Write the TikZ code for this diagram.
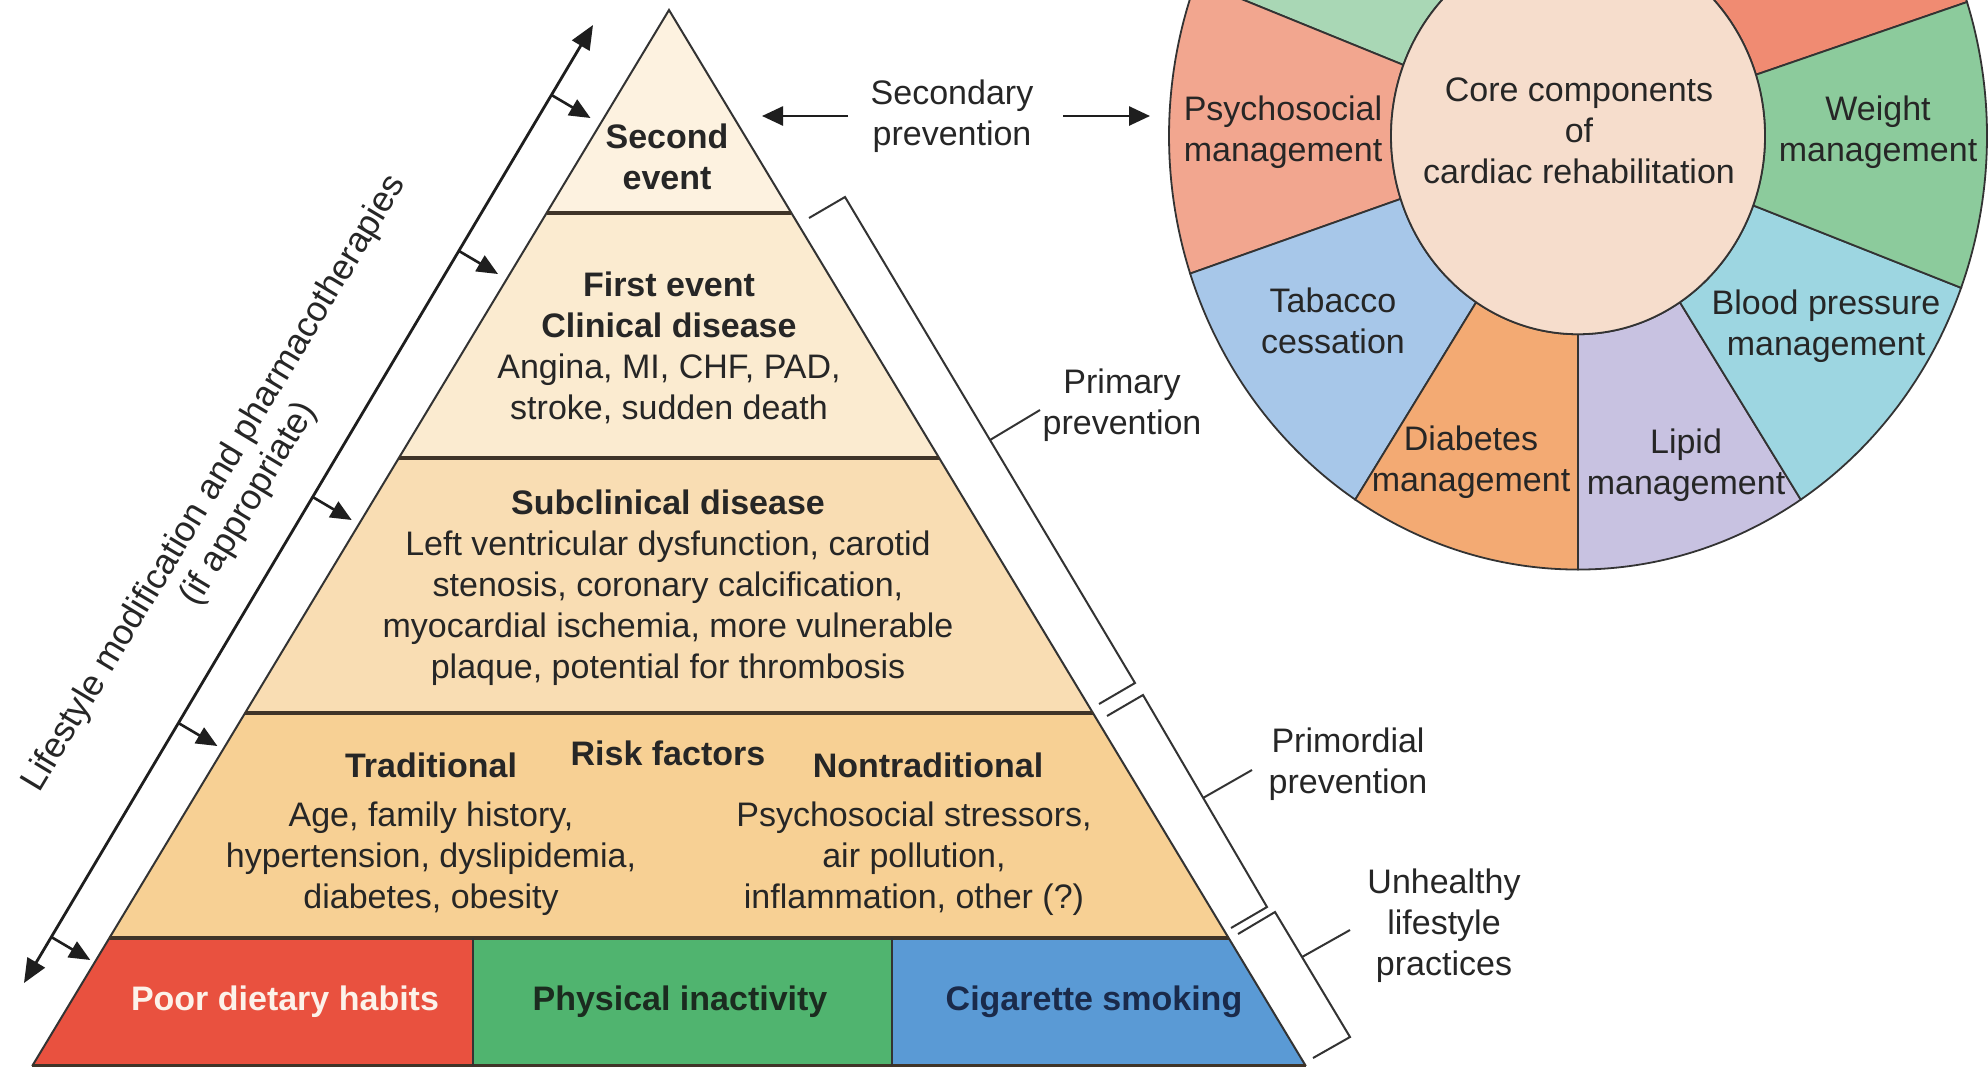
\documentclass[tikz,border=0pt]{standalone}
\usepackage{fontspec}
\setmainfont{Liberation Sans}
\usetikzlibrary{arrows.meta}
\definecolor{txt}{HTML}{262626}
\definecolor{edgec}{HTML}{333333}
\definecolor{laylc}{HTML}{3F3428}
\definecolor{arrc}{HTML}{1E1E1E}
\definecolor{lay1}{HTML}{FDF2E0}
\definecolor{lay2}{HTML}{FBEBD0}
\definecolor{lay3}{HTML}{F9DDB3}
\definecolor{lay4}{HTML}{F7D094}
\definecolor{bred}{HTML}{E9513F}
\definecolor{bgreen}{HTML}{50B46F}
\definecolor{bblue}{HTML}{5A9AD5}
\definecolor{rpsych}{HTML}{F2A68F}
\definecolor{rtab}{HTML}{A7C7E9}
\definecolor{rdiab}{HTML}{F3AA73}
\definecolor{rlipid}{HTML}{C8C2E1}
\definecolor{rbp}{HTML}{9DD6E1}
\definecolor{rweight}{HTML}{8CCB9C}
\definecolor{rtopr}{HTML}{F08B72}
\definecolor{rtopl}{HTML}{A9D7B5}
\definecolor{rinner}{HTML}{F6DDCC}
\definecolor{navy}{HTML}{1A2A4A}
\definecolor{dkgreen}{HTML}{1B2B1F}
\definecolor{offwhite}{HTML}{FCF2EA}
\newcommand\ringsector[3]{%
  \path[fill=#3,draw=edgec,line width=1.8pt] (#1:187pt) -- (#1:409pt)
    arc[start angle=#1,end angle=#2,radius=409pt] -- (#2:187pt)
    arc[start angle=#2,end angle=#1,radius=187pt] -- cycle;}
\begin{document}
\begin{tikzpicture}[x=1pt,y=-1pt,
  every node/.style={inner sep=0pt,outer sep=0pt,text=txt,align=center},
  lbl/.style={font=\fontsize{34}{41}\selectfont},
  blbl/.style={font=\fontsize{34}{41}\selectfont\bfseries},
  rlbl/.style={font=\fontsize{35.5}{40}\selectfont},
  pyredge/.style={draw=edgec,line width=2pt},
  layerline/.style={draw=laylc,line width=3.2pt},
  brk/.style={draw=edgec,line width=2pt,line join=miter},
  sarrow/.style={draw=arrc,line width=2.6pt,-{Triangle[length=21pt,width=19pt]}},
  tarrow/.style={draw=arrc,line width=2.6pt,-{Triangle[length=21pt,width=18pt]}},
  darrow/.style={draw=arrc,line width=2.8pt,{Triangle[length=24pt,width=20pt]}-{Triangle[length=24pt,width=20pt]}}
]
\useasboundingbox (0,0) rectangle (1988,1066);
\fill[white] (0,0) rectangle (1988,1066);
\begin{scope}
\clip (0,0) rectangle (1988,1066);

% ---------- pyramid ----------
\coordinate (P0) at (669,10);
\coordinate (L1) at (546.6,213);  \coordinate (R1) at (791.4,213);
\coordinate (L2) at (398.9,458);  \coordinate (R2) at (939.1,458);
\coordinate (L3) at (245.1,713);  \coordinate (R3) at (1092.9,713);
\coordinate (L4) at (109.4,938);  \coordinate (R4) at (1228.6,938);
\coordinate (L5) at (32.2,1066);  \coordinate (R5) at (1305.8,1066);
\coordinate (G1) at (473,938);    \coordinate (G1b) at (473,1066);
\coordinate (G2) at (892,938);    \coordinate (G2b) at (892,1066);

\fill[lay1] (P0) -- (R1) -- (L1) -- cycle;
\fill[lay2] (L1) -- (R1) -- (R2) -- (L2) -- cycle;
\fill[lay3] (L2) -- (R2) -- (R3) -- (L3) -- cycle;
\fill[lay4] (L3) -- (R3) -- (R4) -- (L4) -- cycle;
\fill[bred] (L4) -- (G1) -- (G1b) -- (L5) -- cycle;
\fill[bgreen] (G1) -- (G2) -- (G2b) -- (G1b) -- cycle;
\fill[bblue] (G2) -- (R4) -- (R5) -- (G2b) -- cycle;

\draw[pyredge] (L5) -- (P0) -- (R5);
\draw[layerline] (L1) -- (R1);
\draw[layerline] (L2) -- (R2);
\draw[layerline] (L3) -- (R3);
\draw[layerline] (L4) -- (R4);
\draw[layerline] (L5) -- (R5);
\draw[pyredge] (G1) -- (G1b);
\draw[pyredge] (G2) -- (G2b);

% ---------- pyramid texts ----------
\node[blbl] (second) at (667,157) {Second\\event};
\node[lbl] (first) at (669,348) {\textbf{First event}\\\textbf{Clinical disease}\\Angina, MI, CHF, PAD,\\stroke, sudden death};
\node[lbl] (subcl) at (668,588) {\textbf{Subclinical disease}\\Left ventricular dysfunction, carotid\\stenosis, coronary calcification,\\myocardial ischemia, more vulnerable\\plaque, potential for thrombosis};
\node[blbl] (risk) at (668,753) {Risk factors};
\node[blbl] (trad) at (431,765) {Traditional};
\node[blbl] (nontrad) at (928,765) {Nontraditional};
\node[lbl] (tradlist) at (431,859) {Age, family history,\\hypertension, dyslipidemia,\\diabetes, obesity};
\node[lbl] (nontradlist) at (914,859) {Psychosocial stressors,\\air pollution,\\inflammation, other (?)};
\node[blbl,text=offwhite] (diet) at (285,1002) {Poor dietary habits};
\node[blbl,text=dkgreen] (phys) at (680,1002) {Physical inactivity};
\node[blbl,text=navy] (smoke) at (1094,1002) {Cigarette smoking};

% ---------- lifestyle arrow ----------
\coordinate (lmBot) at (24,983);
\coordinate (lmTop) at (593,25);
\draw[darrow] (lmBot) -- (lmTop);
\coordinate (t1s) at (551.5,95);   \coordinate (t1e) at (590.5,118);
\coordinate (t2s) at (459,251);    \coordinate (t2e) at (498,274);
\coordinate (t3s) at (312.7,497);  \coordinate (t3e) at (351.7,520);
\coordinate (t4s) at (178.4,723);  \coordinate (t4e) at (217.4,746);
\coordinate (t5s) at (51.3,937);   \coordinate (t5e) at (90.3,960);
\draw[tarrow] (t1s) -- (t1e);
\draw[tarrow] (t2s) -- (t2e);
\draw[tarrow] (t3s) -- (t3e);
\draw[tarrow] (t4s) -- (t4e);
\draw[tarrow] (t5s) -- (t5e);
\node[rlbl,rotate=59] (lifestyle) at (232,494) {Lifestyle modification and pharmacotherapies\\(if appropriate)};

% ---------- secondary prevention ----------
\node[lbl] (secprev) at (952,116) {Secondary\\prevention};
\coordinate (saL0) at (848,116); \coordinate (saL1) at (762,116);
\coordinate (saR0) at (1063,116); \coordinate (saR1) at (1150,116);
\draw[sarrow] (saL0) -- (saL1);
\draw[sarrow] (saR0) -- (saR1);

% ---------- brackets ----------
\coordinate (b1a) at (809,218); \coordinate (b1b) at (845,197);
\coordinate (b1c) at (1135,683); \coordinate (b1d) at (1099,704);
\draw[brk] (b1a) -- (b1b) -- (b1c) -- (b1d);
\coordinate (b1l) at (990,440); \coordinate (b1m) at (1040,410);
\draw[brk] (b1l) -- (b1m);
\node[lbl] (primprev) at (1122,405) {Primary\\prevention};

\coordinate (b2a) at (1107,716); \coordinate (b2b) at (1143,695);
\coordinate (b2c) at (1267,907); \coordinate (b2d) at (1231,928);
\draw[brk] (b2a) -- (b2b) -- (b2c) -- (b2d);
\coordinate (b2l) at (1203,798); \coordinate (b2m) at (1252,770);
\draw[brk] (b2l) -- (b2m);
\node[lbl] (primord) at (1348,764) {Primordial\\prevention};

\coordinate (b3a) at (1238,934); \coordinate (b3b) at (1275,912);
\coordinate (b3c) at (1350,1037); \coordinate (b3d) at (1313,1058);
\draw[brk] (b3a) -- (b3b) -- (b3c) -- (b3d);
\coordinate (b3l) at (1302,957); \coordinate (b3m) at (1350,930);
\draw[brk] (b3l) -- (b3m);
\node[lbl] (unhealthy) at (1444,926) {Unhealthy\\lifestyle\\practices};

% ---------- ring ----------
\begin{scope}[shift={(1578,136)},yscale=1.06]
\ringsector{18}{90}{rtopr}
\ringsector{90}{159}{rtopl}
\ringsector{159}{198.5}{rpsych}
\ringsector{-161.5}{-123}{rtab}
\ringsector{-123}{-90}{rdiab}
\ringsector{-90}{-57}{rlipid}
\ringsector{-57}{-20.5}{rbp}
\ringsector{-20.5}{18}{rweight}
\path[fill=rinner,draw=edgec,line width=1.8pt] (0,0) circle[radius=187pt];
\end{scope}
\node[lbl] (core) at (1579,131) {Core components\\of\\cardiac rehabilitation};
\node[lbl] (psych) at (1283,132) {Psychosocial\\management};
\node[lbl] (weight) at (1878,132) {Weight\\management};
\node[lbl] (tabac) at (1333,321) {Tabacco\\cessation};
\node[lbl] (bp) at (1826,326) {Blood pressure\\management};
\node[lbl] (diab) at (1471,462) {Diabetes\\management};
\node[lbl] (lipid) at (1686,465) {Lipid\\management};
\end{scope}
\end{tikzpicture}
\end{document}
